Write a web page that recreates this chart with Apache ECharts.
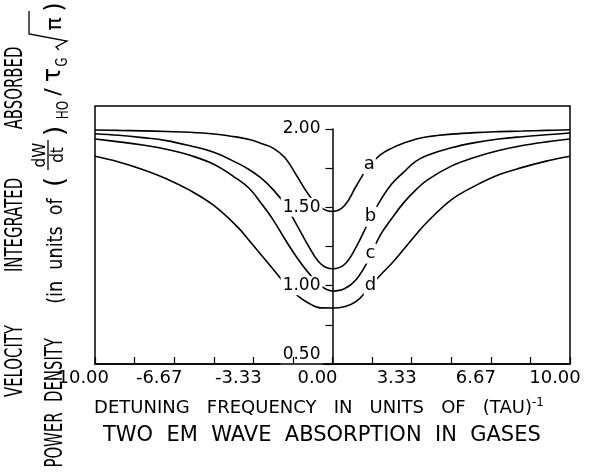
<!DOCTYPE html>
<html>
<head>
<meta charset="utf-8">
<title>Two EM wave absorption in gases</title>
<script src="https://cdn.jsdelivr.net/npm/echarts@6/dist/echarts.min.js"></script>
<style>
html, body { margin: 0; padding: 0; background: #fff; }
#chart { width: 598px; height: 472px; }
</style>
</head>
<body>
<div id="chart"></div>
<script>
// detuning frequency, in units of (tau)^-1
var detuning = [-10, -9, -8, -7, -6, -5, -4, -3.5, -3, -2.5, -2, -1.5, -1, -0.5, 0,
                0.5, 1, 1.5, 2, 2.5, 3, 3.5, 4, 5, 6, 7, 8, 9, 10];
// absorbed power density (left and right branches read separately)
var curveA = [1.994, 1.991, 1.988, 1.984, 1.979, 1.968, 1.948, 1.933, 1.908, 1.878, 1.816, 1.700, 1.580, 1.500, 1.474,
              1.510, 1.636, 1.757, 1.833, 1.878, 1.910, 1.935, 1.951, 1.967, 1.977, 1.983, 1.987, 1.991, 1.995];
var curveB = [1.970, 1.960, 1.945, 1.926, 1.893, 1.852, 1.782, 1.740, 1.686, 1.613, 1.518, 1.387, 1.250, 1.140, 1.108,
              1.135, 1.248, 1.400, 1.540, 1.650, 1.725, 1.793, 1.832, 1.880, 1.913, 1.936, 1.951, 1.963, 1.974];
var curveC = [1.936, 1.918, 1.898, 1.871, 1.832, 1.775, 1.680, 1.620, 1.525, 1.420, 1.296, 1.180, 1.080, 1.000, 0.966,
              0.980, 1.040, 1.160, 1.320, 1.430, 1.530, 1.610, 1.675, 1.763, 1.820, 1.863, 1.895, 1.918, 1.936];
var curveD = [1.826, 1.790, 1.742, 1.683, 1.608, 1.512, 1.375, 1.287, 1.196, 1.105, 1.014, 0.940, 0.888, 0.858, 0.857,
              0.866, 0.900, 0.978, 1.065, 1.143, 1.232, 1.324, 1.408, 1.548, 1.637, 1.708, 1.755, 1.795, 1.826];

// curve tags, sitting on the rising side of each curve
var curveNames = ['a', 'b', 'c', 'd'];
var labelX = [1.55, 1.60, 1.60, 1.60];
var labelY = [1.775, 1.44, 1.205, 1.0];

var xTickLabels = ['-10.00', '-6.67', '-3.33', '0.00', '3.33', '6.67', '10.00'];
var yTickLabels = ['0.50', '1.00', '1.50', '2.00'];

var FONT = '"DejaVu Sans", "Liberation Sans", sans-serif';

function pairs(ys) {
  return detuning.map(function (x, i) { return [x, ys[i]]; });
}

function lineSeries(name, ys) {
  return {
    name: name,
    type: 'line',
    xAxisIndex: 0,
    yAxisIndex: 0,
    data: pairs(ys),
    smooth: 0.4,
    showSymbol: false,
    lineStyle: { color: '#000', width: 1.6 },
    z: 2
  };
}

// rotated text for the y title
function vText(text, x, y, size, sx) {
  return {
    type: 'text', x: x, y: y, rotation: Math.PI / 2, scaleX: sx || 1, z: 100,
    style: { text: text, fill: '#000', font: size + 'px ' + FONT, align: 'center', verticalAlign: 'middle' }
  };
}

var chart = echarts.init(document.getElementById('chart'));

chart.setOption({
  animation: false,
  backgroundColor: '#fff',
  title: {
    text: 'TWO  EM  WAVE  ABSORPTION  IN  GASES',
    left: 103, top: 425, padding: 0,
    textStyle: { fontSize: 21, fontWeight: 'normal', fontFamily: FONT, color: '#000' }
  },
  grid: [
    { left: 95, right: 28, top: 129, bottom: 108 },
    { left: 95, right: 28, top: 106, bottom: 108, show: true, borderColor: '#000', borderWidth: 1.5, backgroundColor: 'transparent' }
  ],
  xAxis: [
    {
      type: 'value', gridIndex: 0, min: -10, max: 10, interval: 10 / 3, z: 12,
      axisLine: { show: true, onZero: false, lineStyle: { color: '#000', width: 1.5 } },
      axisTick: { show: true, inside: true, length: 7, lineStyle: { color: '#000', width: 1.2 } },
      minorTick: { show: true, splitNumber: 2, length: 7, lineStyle: { color: '#000', width: 1.2 } },
      splitLine: { show: false },
      axisLabel: {
        margin: 5, fontSize: 18, fontFamily: FONT, color: '#000', hideOverlap: false,
        padding: [0, 30, 0, 0],
        formatter: function (v) { return xTickLabels[Math.round((v + 10) / (10 / 3))]; }
      },
      name: '{t|DETUNING   FREQUENCY   IN   UNITS   OF   (TAU)}{s|-1}',
      nameLocation: 'middle',
      nameGap: 33,
      nameTextStyle: {
        padding: [0, 27, 0, 0],
        rich: {
          t: { fontSize: 18, fontFamily: FONT, color: '#000', lineHeight: 22 },
          s: { fontSize: 12, fontFamily: FONT, color: '#000', lineHeight: 22, verticalAlign: 'top' }
        }
      }
    },
    { type: 'value', gridIndex: 1, min: -10, max: 10, show: false }
  ],
  yAxis: [
    {
      type: 'value', gridIndex: 0, min: 0.5, max: 2, interval: 0.5, z: 10,
      position: 'left', offset: -237.5,
      axisLine: { show: true, onZero: false, lineStyle: { color: '#000', width: 1.5 } },
      axisTick: { show: true, length: 7, lineStyle: { color: '#000', width: 1.2 } },
      minorTick: { show: true, splitNumber: 2, length: 7, lineStyle: { color: '#000', width: 1.2 } },
      splitLine: { show: false },
      axisLabel: {
        margin: 10, fontSize: 17, fontFamily: FONT, color: '#000', hideOverlap: false,
        backgroundColor: '#fff', padding: [1, 2],
        formatter: function (v) {
          var i = Math.round((v - 0.5) / 0.5);
          return i === 0 ? '{low|' + yTickLabels[0] + '}' : yTickLabels[i];
        },
        rich: { low: { fontSize: 17, fontFamily: FONT, color: '#000', padding: [0, 0, 18, 0] } }
      }
    },
    { type: 'value', gridIndex: 1, min: 0.5, max: 2.147, show: false }
  ],
  series: [
    lineSeries('a', curveA),
    lineSeries('b', curveB),
    lineSeries('c', curveC),
    lineSeries('d', curveD),
    {
      type: 'scatter',
      xAxisIndex: 0, yAxisIndex: 0,
      symbolSize: 0,
      itemStyle: { color: 'rgba(0,0,0,0)', opacity: 1 },
      z: 5,
      data: curveNames.map(function (n, i) { return { name: n, value: [labelX[i], labelY[i]] }; }),
      label: {
        show: true, position: 'inside', formatter: '{b}',
        fontSize: 18, fontFamily: FONT, color: '#000', opacity: 1,
        backgroundColor: '#fff', padding: [1, 1]
      }
    }
  ],
  graphic: [
    vText('VELOCITY', 16, 361, 24, 0.62),
    vText('INTEGRATED', 16, 225, 24, 0.62),
    vText('ABSORBED', 16, 88, 24, 0.62),
    vText('POWER', 56, 440, 24, 0.62),
    vText('DENSITY', 56, 370, 24, 0.62),
    vText('(in  units  of', 56, 251, 22, 0.8),
    vText('(', 56, 182, 26, 1),
    vText('dW', 40, 155, 18, 0.85),
    { type: 'line', z: 100, shape: { x1: 48, y1: 170, x2: 48, y2: 140 }, style: { stroke: '#000', lineWidth: 1.3 } },
    vText('dt', 58, 155, 18, 0.85),
    vText(')', 56, 131, 26, 1),
    vText('HO', 64, 110, 15, 0.8),
    vText('/', 54, 92, 22, 1),
    vText('\u03c4', 54, 75, 24, 1),
    vText('G', 63, 62, 15, 0.8),
    { type: 'polyline', z: 100, shape: { points: [[59, 50], [56, 47], [67, 41], [29, 34], [29, 11]] }, style: { stroke: '#000', fill: null, lineWidth: 1.3 } },
    vText('\u03c0', 55, 24, 22, 1),
    vText(')', 56, 7, 24, 1)
  ]
});
</script>
</body>
</html>
